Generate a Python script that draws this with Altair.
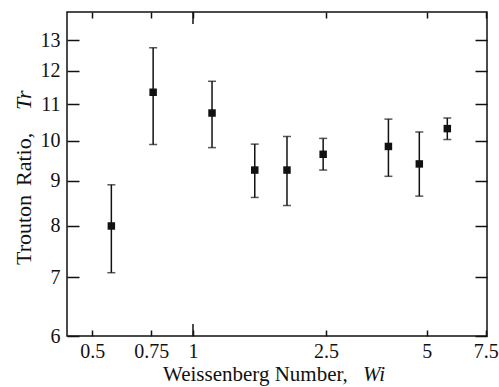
import altair as alt
import pandas as pd

wi = [0.57, 0.76, 1.14, 1.53, 1.91, 2.45, 3.84, 4.75, 5.76]
tr = [8.0, 11.35, 10.75, 9.26, 9.26, 9.65, 9.85, 9.41, 10.32]
tr_lo = [7.08, 9.90, 9.82, 8.62, 8.44, 9.26, 9.11, 8.65, 10.03]
tr_hi = [8.91, 12.75, 11.68, 9.91, 10.11, 10.06, 10.58, 10.23, 10.61]

x_ticks = [0.5, 0.75, 1, 2.5, 5, 7.5]
y_ticks = [6, 7, 8, 9, 10, 11, 12, 13]

df = pd.DataFrame({"wi": wi, "tr": tr, "lo": tr_lo, "hi": tr_hi})

FONT = "Liberation Serif"
W, H = 420, 324

xs = alt.Scale(type="log", domain=[0.42, 7.57], nice=False)
ys = alt.Scale(type="log", domain=[6, 14], nice=False)

ax_bottom = alt.Axis(orient="bottom", values=x_ticks, offset=-6, tickSize=6, domain=False,
                     labelPadding=5, labelFont=FONT, labelFontSize=20, labelColor="#111",
                     tickColor="#111", tickWidth=1.5, grid=False, title=None,
                     labelExpr="datum.value == 7.5 ? '7.5' : datum.value == 0.75 ? '0.75' : datum.value == 2.5 ? '2.5' : datum.value == 0.5 ? '0.5' : format(datum.value, 'd')")
ax_left = alt.Axis(orient="left", values=y_ticks, offset=-12, tickSize=12, domain=False,
                   labelPadding=7, labelFont=FONT, labelFontSize=20, labelColor="#111",
                   tickColor="#111", tickWidth=1.5, grid=False, title=None, format="d")
ax_top = alt.Axis(orient="top", values=x_ticks, offset=-6, tickSize=6, domain=False,
                  labels=False, tickColor="#111", tickWidth=1.5, grid=False, title=None)
ax_right = alt.Axis(orient="right", values=y_ticks, offset=-12, tickSize=12, domain=False,
                    labels=False, tickColor="#111", tickWidth=1.5, grid=False, title=None)

base = alt.Chart(df)

bars = base.mark_rule(color="#111", strokeWidth=1.5).encode(
    x=alt.X("wi:Q", scale=xs, axis=ax_bottom),
    y=alt.Y("lo:Q", scale=ys, axis=ax_left),
    y2="hi:Q",
)
caps_lo = base.mark_tick(color="#111", orient="horizontal", size=8, thickness=1.5).encode(
    x=alt.X("wi:Q", scale=xs, axis=None),
    y=alt.Y("lo:Q", scale=ys, axis=None),
)
caps_hi = base.mark_tick(color="#111", orient="horizontal", size=8, thickness=1.5).encode(
    x=alt.X("wi:Q", scale=xs, axis=None),
    y=alt.Y("hi:Q", scale=ys, axis=None),
)
pts = base.mark_square(color="#111", opacity=1, size=56).encode(
    x=alt.X("wi:Q", scale=xs, axis=ax_top),
    y=alt.Y("tr:Q", scale=ys, axis=ax_right),
)

one = alt.Chart(pd.DataFrame({"v": [1]}))
long_bottom = one.mark_rule(color="#111", strokeWidth=1.5).encode(
    x=alt.X("v:Q", scale=xs, axis=None), y=alt.value(H), y2=alt.value(H - 12))
long_top = one.mark_rule(color="#111", strokeWidth=1.5).encode(
    x=alt.X("v:Q", scale=xs, axis=None), y=alt.value(0), y2=alt.value(12))

tdf = alt.Chart(pd.DataFrame({"a": [0]}))
xt1 = tdf.mark_text(text="Weissenberg Number,", font=FONT, fontSize=21, align="left",
                    baseline="alphabetic", color="#111").encode(x=alt.value(96), y=alt.value(368.5))
xt2 = tdf.mark_text(text="Wi", font=FONT, fontSize=21, fontStyle="italic", align="left",
                    baseline="alphabetic", color="#111").encode(x=alt.value(296), y=alt.value(368.5))
yt1 = tdf.mark_text(text="Trouton", font=FONT, fontSize=22, align="left", angle=270,
                    baseline="alphabetic", color="#111").encode(x=alt.value(-36), y=alt.value(253))
yt2 = tdf.mark_text(text="Ratio,", font=FONT, fontSize=22, align="left", angle=270,
                    baseline="alphabetic", color="#111").encode(x=alt.value(-36), y=alt.value(174))
yt3 = tdf.mark_text(text="Tr", font=FONT, fontSize=22, fontStyle="italic", align="left", angle=270,
                    baseline="alphabetic", color="#111").encode(x=alt.value(-36), y=alt.value(98))

chart = alt.layer(
    bars, pts, caps_lo, caps_hi, long_bottom, long_top, xt1, xt2, yt1, yt2, yt3
).resolve_axis(x="independent", y="independent").properties(
    width=W, height=H,
    autosize=alt.AutoSizeParams(type="none"),
    padding={"left": 67, "top": 12, "right": 12, "bottom": 51},
    background="white",
).configure_view(stroke="#111", strokeWidth=1.5)

chart.save("out.html", embed_options={"renderer": "svg", "actions": False})
